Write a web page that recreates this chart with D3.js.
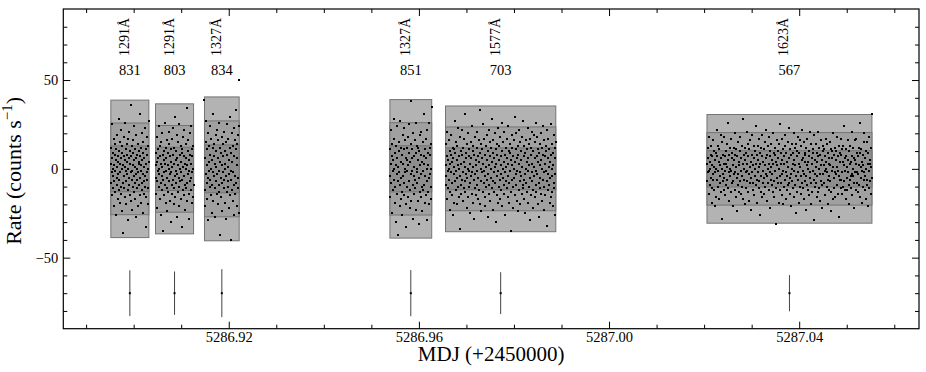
<!DOCTYPE html>
<html><head><meta charset="utf-8">
<script src="https://cdn.jsdelivr.net/npm/d3@7"></script>
<style>
html,body{margin:0;padding:0;background:#fff;}
svg{display:block;font-family:"Liberation Serif","Times New Roman",serif;}
</style></head>
<body><svg id="c" width="926" height="372"></svg>
<script>
// ---- data ----
const wavelengths = ["1291Å","1291Å","1327Å","1327Å","1577Å","1623Å"];
const counts = [831, 803, 834, 851, 703, 567];
const segStart = [5286.8952, 5286.9046, 5286.9149, 5286.9539, 5286.9656, 5287.0206];
const segEnd   = [5286.9032, 5286.9126, 5286.9222, 5286.9627, 5286.9888, 5287.0553];
const sigma = [12.9, 12.2, 13.5, 13.0, 11.8, 10.2];
const errY = -70;
const xMajor = [5286.92, 5286.96, 5287.00, 5287.04];
const xMinor = [5286.89, 5286.90, 5286.91, 5286.93, 5286.94, 5286.95, 5286.97, 5286.98, 5286.99, 5287.01, 5287.02, 5287.03, 5287.05, 5287.06];
const yMajor = [-50, 0, 50];
const yMinor = [-80, -70, -60, -40, -30, -20, -10, 10, 20, 30, 40, 60, 70, 80];

const rates1 = [3,-8,12,-2,25,-15,6,0,-11,9,-4,17,-21,2,-7,14,-1,8,-13,5,-26,11,-5,1,19,-9,4,-17,7,-3,28,-12,10,-6,15,-19,-2,3,22,-10,6,-14,0,9,-24,13,-8,2,-36,18,-4,7,-11,1,26,-16,5,-1,11,-7,-20,4,14,-3,8,-29,0,17,-12,6,-5,21,-9,3,-15,10,-2,36,-18,7,-6,13,-1,-23,9,-10,2,16,-4,5,-13,24,-8,1,-17,11,-3,6,-27,19,0,-11,8,-6,14,-2,-21,4,10,-9,3,-15,31,-5,7,-1,12,-19,2,-8,20,-12,5,-3,-25,9,15,-7,1,-14,6,23,-10,-4,11,-33,3,-16,8,-2,18,-6,0,-11,13,-20,4,27];
const rates2 = [-5,9,-14,2,18,-7,4,-22,11,-1,6,-10,24,-3,0,13,-17,7,-8,3,-26,15,-4,1,-12,20,-6,8,-35,5,-2,10,-15,26,-9,3,-19,12,-1,6,-11,-24,16,-5,2,9,-13,21,-7,0,14,-3,-18,7,-30,11,-2,4,-9,17,-14,1,23,-6,8,-20,3,-11,12,-4,29,-16,5,-1,10,-8,-27,19,-3,6,-13,2,15,-10,-5,25,-21,8,0,-7,13,-2,-17,4,11,-33,9,-6,18,-12,1,-4,22,-15,7,-9,3,-23,14,0,-11,6,34,-8,2,-18,10,-3,16,-14,5,-1,-28,20,-7,8,-12,3,24,-5,-19,11,-2,7,-16,13,0,-9];
const rates3 = [39,-12,6,-21,15,-3,27,-8,2,-17,11,-5,20,-29,4,-1,13,-10,24,-6,8,-15,0,17,-25,5,-9,12,-2,31,-18,7,-4,14,-11,3,-27,19,-7,1,10,-14,22,-3,6,-20,16,-1,-9,26,-13,4,-37,12,-5,9,-16,2,18,-8,-24,7,14,-2,-11,21,-6,3,-19,10,0,-28,15,-4,8,-13,25,-10,1,-7,17,-22,5,-3,12,-15,29,-1,-40,9,-6,20,-12,4,-18,13,-2,23,-26,7,-9,16,-4,-14,11,33,-8,2,-21,6,14,-11,19,-5,-25,24,50];
const rates4 = [-4,11,-16,3,22,-8,7,-25,14,-1,5,-12,28,-6,0,17,-19,9,-10,2,-30,13,-3,6,-14,24,-7,1,-37,10,-2,15,-21,27,-9,4,-17,12,-5,8,-13,-26,19,-4,3,11,-15,23,-8,0,16,-2,-20,6,-33,12,-1,5,-10,18,-16,2,25,-7,9,-22,4,-12,14,-3,38,-18,6,-1,11,-9,-28,20,-4,7,-14,1,16,-11,-6,26,-23,9,0,-8,13,-2,-18,5,12,-31,10,-5,19,-13,2,-3,21,-16,8,-10,4,-24,15,-1,-12,7,31,-9,3,-19,11,-4,17,-15,6,0,-29,22,-7,9,-13,2,26,-5,-20,12,-3,8,-17,14,0,-10,35];
const rates5 = [
2,-9,14,-4,7,-17,21,-1,5,-11,0,16,-6,10,-23,3,-13,8,-2,19,-8,4,-15,12,-26,6,-3,11,-19,1,
27,-7,9,-12,15,-1,-20,5,13,-5,2,-10,23,-16,7,0,-34,18,-4,10,-9,3,-14,22,-6,8,-2,-18,12,-11,
4,17,-7,1,31,-13,6,-3,9,-22,14,-5,0,-16,20,-1,7,-10,11,-25,3,-8,15,-4,6,-14,24,-2,10,-19,
1,13,-6,-28,8,-11,18,-3,5,-15,2,21,-9,12,-1,-17,7,-5,16,-12,4,33,-20,9,-7,0,14,-24,6,-2,
11,-13,3,25,-8,-1,17,-16,8,-4,-21,13,1,-10,19,-6,5,-27,10,-3,22,-14,2,-9,7,15,-18,0,-5,12,
-11,28,4,-7,9,-23,16,-2,6,-13,1,20,-8,11,-30,3,-15,14,-4,8,-19,23,-1,5,-10,13,-6,-17,18,2,
-12,7,-3,26,-21,10,-5,0,15,-9,4,-14,21,-2,8,-26,12,-7,1,17,-11,6,-4,-16,24,3,-8,10,-19,14,
-1,9,-13,5,-35,19,-6,2,12,-10,7,-22,16,0,-5,29,-15,4,-9,11,-3,20,-18,6,-1,13,-24,8,-12,3,
22,-7,15,-2,-20,10,-4,5,-14,18,1,-11,27,-9,7,-6,-17,13,-3,9,-25,16,0,-8,11,-13,4,23,-1,-19,
6,14,-10,2,-29,17,-5,8,-15,12,-2,21,-7,3,-22,10,-12,19,1,-4,15,-16,6,-9,26,-1,-13,7,-3,18,
-20,11,4,-8,9,-27,14,-5,2,-11,20,-14,5,0,12,-18,8,-6,24,-2,-10,16,-23,3,7,-15,10,-1,13,-7,
-32,22,-3,6,-12,17,1,-9,11,-19,4,-5,25,-16,8,0,-13,14,-4,-21,9,2,-8,19,-11,6,-26,12,-3,15];
const rates6 = [
3,-7,12,-2,6,-14,18,-1,4,-9,0,13,-5,8,-19,2,-11,7,-3,16,-6,1,-12,10,-21,5,-2,9,-16,0,
22,-6,7,-10,13,-1,-17,4,11,-4,2,-8,19,-13,6,0,-28,15,-3,8,-7,3,-12,18,-5,7,-1,-15,10,-9,
3,14,-6,1,26,-11,5,-2,8,-18,12,-4,0,-13,17,-1,6,-8,9,-21,2,-7,12,-3,5,-12,20,-2,8,-16,
1,11,-5,-24,7,-9,15,-3,4,-13,2,18,-7,10,-1,-14,6,-4,13,-10,3,28,-17,8,-6,0,12,-20,5,-2,
9,-11,3,21,-7,-1,14,-13,7,-3,-18,11,1,-8,16,-5,4,-23,8,-2,19,-12,2,-8,6,13,-15,0,-4,10,
-9,24,3,-6,8,-19,13,-2,5,-11,1,17,-7,9,-26,3,-13,12,-4,7,-16,19,-1,4,-8,11,-5,-14,15,2,
-10,6,-3,22,-18,8,-4,0,13,-8,3,-12,18,-2,7,-22,10,-6,1,14,-9,5,-3,-13,20,3,-7,9,-16,12,
-1,8,-11,4,-31,16,-5,2,10,-8,6,-19,14,0,-4,25,-12,3,-8,9,-3,17,-15,5,-1,11,-20,7,-10,3,
19,-6,13,-2,-17,9,-4,4,-12,15,1,-9,23,-8,6,-5,-14,11,-3,8,-21,14,0,-7,9,-11,3,20,-1,-16,
5,12,-9,2,-25,14,-4,7,-13,10,-2,18,-6,3,-19,9,-10,16,1,-4,13,-14,5,-8,22,-1,-11,6,-3,15,
-17,9,4,-7,8,-23,12,-4,2,-9,17,-12,4,0,10,-15,7,-5,21,-2,-8,14,-20,3,6,-13,9,-1,11,-6,
-29,19,-3,5,-10,14,1,-8,9,-16,4,-4,21,-13,7,0,-11,12,-3,-18,8,2,-7,16,-9,5,-22,10,-3,13,
2,-8,11,-1,7,-15,17,0,4,-10,-2,14,-6,9,-20,3,-12,6,-4,15,-7,2,-13,11,-24,6,-1,10,-17,1,
20,-5,8,-11,12,-2,-16,5,10,-3,1,-9,18,-14,7,-1,-27,13,-4,9,-6,4,-11,17,-6,8,-2,-14,11,-10,
4,13,-7,2,24,-12,6,-1,7,-17,11,-5,1,-12,16,-2,5,-9,10,-20,3,-6,13,-4,4,-11,21,-3,7,-15,
0,12,-4,-22,6,-8,16,-2,5,-12,3,17,-8,9,-2,-13,7,-3,12,-9,2,26,-16,9,-5,1,11,-19,4,-1,
8,-10,2,20,-6,-2,15,-12,6,-4,-17,10,0,-9,15,-6,3,-21,9,-1,18,-11,3,-7,5,12,-14,1,-5,31];
const rates = [rates1, rates2, rates3, rates4, rates5, rates6];

// ---- layout ----
const L = 63.3, R = 919, T = 9, B = 328.7;
const FONT = "Liberation Serif, Times New Roman, serif";
const svg = d3.select("#c");
const x = d3.scaleLinear().domain([5286.8852, 5287.0652]).range([L, R]);
const y = d3.scaleLinear().domain([-90, 90]).range([B, T]);

const segs = wavelengths.map((w, i) => ({
  w, n: counts[i], t0: segStart[i], t1: segEnd[i], s: sigma[i], r: rates[i],
  c: (segStart[i] + segEnd[i]) / 2
}));

// bands (±3σ, ±2σ, ±1σ)
const bandCols = ["#b3b3b3", "#a0a0a0", "#8d8d8d"];
const gB = svg.append("g");
segs.forEach(sg => {
  [3, 2, 1].forEach((k, j) => {
    gB.append("rect")
      .attr("x", x(sg.t0)).attr("width", x(sg.t1) - x(sg.t0))
      .attr("y", y(k * sg.s)).attr("height", y(-k * sg.s) - y(k * sg.s))
      .attr("fill", bandCols[j]).attr("stroke", "#747474").attr("stroke-width", 1);
  });
});

// points (pixel-snapped 2x2 squares)
const gP = svg.append("g").attr("shape-rendering", "crispEdges");
segs.forEach(sg => {
  const n = sg.r.length;
  const tx = d3.scaleLinear().domain([0, n - 1]).range([sg.t0, sg.t1]);
  gP.selectAll(null).data(sg.r).enter().append("rect")
    .attr("x", (d, i) => Math.round(x(tx(i))) - 1).attr("y", d => Math.round(y(d)) - 1)
    .attr("width", 2).attr("height", 2).attr("fill", "#000");
});

// error bars
const gE = svg.append("g");
segs.forEach(sg => {
  gE.append("line").attr("x1", x(sg.c)).attr("x2", x(sg.c))
    .attr("y1", y(errY + sg.s)).attr("y2", y(errY - sg.s))
    .attr("stroke", "#444").attr("stroke-width", 1);
  gE.append("rect").attr("x", x(sg.c) - 1).attr("y", y(errY) - 1).attr("width", 2).attr("height", 2).attr("fill", "#000");
});

// labels above boxes
const gL = svg.append("g").attr("fill", "#000").attr("font-family", FONT);
segs.forEach(sg => {
  gL.append("text").attr("transform", `translate(${x(sg.c) - 1},56) rotate(-90)`)
    .attr("text-anchor", "start").attr("font-size", 14).text(sg.w);
  gL.append("text").attr("x", x(sg.c)).attr("y", 75).attr("text-anchor", "middle")
    .attr("font-size", 14.5).text(sg.n);
});

// axes
function styleAxis(g) {
  g.select(".domain").remove();
  g.selectAll("line").attr("stroke", "#000");
  g.selectAll("text").attr("font-family", FONT).attr("font-size", 14.5).attr("fill", "#000");
}
const fmt = d3.format(".2f");
svg.append("g").attr("transform", `translate(0,${B})`)
  .call(d3.axisBottom(x).tickValues(xMajor).tickFormat(fmt).tickSize(-7).tickPadding(3)).call(styleAxis);
svg.append("g").attr("transform", `translate(0,${B})`)
  .call(d3.axisBottom(x).tickValues(xMinor).tickFormat("").tickSize(-4)).call(styleAxis);
svg.append("g").attr("transform", `translate(0,${T})`)
  .call(d3.axisTop(x).tickValues(xMajor).tickFormat("").tickSize(-7)).call(styleAxis);
svg.append("g").attr("transform", `translate(0,${T})`)
  .call(d3.axisTop(x).tickValues(xMinor).tickFormat("").tickSize(-4)).call(styleAxis);
svg.append("g").attr("transform", `translate(${L},0)`)
  .call(d3.axisLeft(y).tickValues(yMajor).tickFormat(d => d < 0 ? "\u2212" + Math.abs(d) : d).tickSize(-7).tickPadding(5)).call(styleAxis);
svg.append("g").attr("transform", `translate(${L},0)`)
  .call(d3.axisLeft(y).tickValues(yMinor).tickFormat("").tickSize(-4)).call(styleAxis);
svg.append("g").attr("transform", `translate(${R},0)`)
  .call(d3.axisRight(y).tickValues(yMajor).tickFormat("").tickSize(-7)).call(styleAxis);
svg.append("g").attr("transform", `translate(${R},0)`)
  .call(d3.axisRight(y).tickValues(yMinor).tickFormat("").tickSize(-4)).call(styleAxis);

// frame
svg.append("rect").attr("x", L).attr("y", T).attr("width", R - L).attr("height", B - T)
  .attr("fill", "none").attr("stroke", "#000").attr("stroke-width", 1.2);

// axis titles
svg.append("text").attr("x", (L + R) / 2).attr("y", 361).attr("text-anchor", "middle")
  .attr("font-family", FONT).attr("font-size", 21).text("MDJ (+2450000)");
const yl = svg.append("text").attr("transform", `translate(21,${(T + B) / 2 + 2}) rotate(-90)`)
  .attr("text-anchor", "middle").attr("font-family", FONT).attr("font-size", 22);
yl.append("tspan").text("Rate (counts s");
yl.append("tspan").attr("dy", -9).attr("font-size", 15).text("\u22121");
yl.append("tspan").attr("dy", 9).text(")");
</script></body></html>
